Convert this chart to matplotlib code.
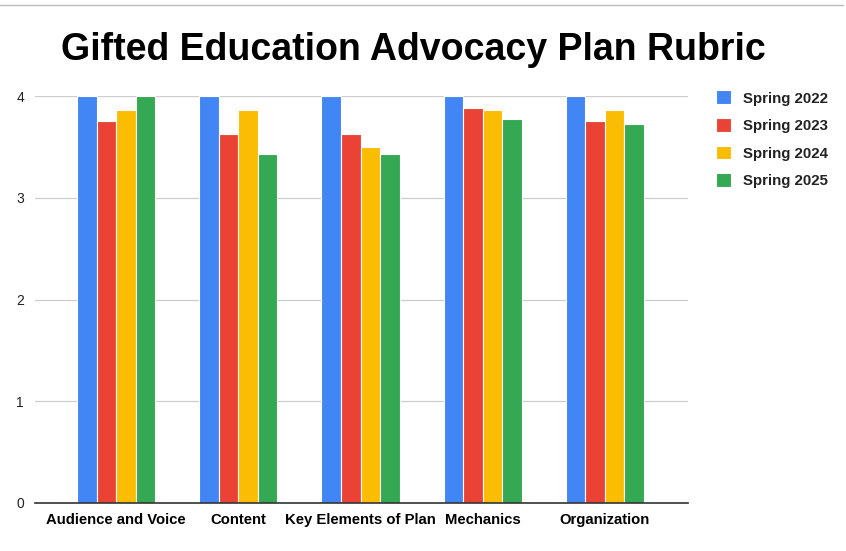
import matplotlib.pyplot as plt
import numpy as np

plt.rcParams['font.family'] = ['Liberation Sans', 'DejaVu Sans']

# Rubric scores per category
categories = ["Audience and Voice", "Content", "Key Elements of Plan", "Mechanics", "Organization"]
spring_2022 = [4.00, 4.00, 4.00, 4.00, 4.00]
spring_2023 = [3.75, 3.63, 3.63, 3.88, 3.75]
spring_2024 = [3.86, 3.86, 3.50, 3.86, 3.86]
spring_2025 = [4.00, 3.43, 3.43, 3.77, 3.72]

series = [("Spring 2022", spring_2022, "#4285f4"),
          ("Spring 2023", spring_2023, "#ea4335"),
          ("Spring 2024", spring_2024, "#fbbc04"),
          ("Spring 2025", spring_2025, "#34a853")]

fig = plt.figure(figsize=(8.46, 5.51), dpi=100)
ax = fig.add_axes([35 / 846, 1 - 503 / 551, (688 - 35) / 846, (503 - 96) / 551])

x = np.arange(len(categories))
w = 0.16
for i, (name, vals, col) in enumerate(series):
    ax.bar(x + (i - 1.5) * w, vals, w, color=col, edgecolor="white",
           linewidth=0.8, label=name, zorder=3)

ax.set_xlim(-0.664, 4.68)
ax.set_ylim(0, 4)
ax.set_yticks([0, 1, 2, 3, 4])
ax.set_xticks(x)
ax.set_xticklabels(categories, fontsize=10.7, fontweight="bold")
ax.tick_params(axis="both", length=0)
ax.tick_params(axis="x", pad=7)
ax.tick_params(axis="y", labelsize=10, pad=8, labelcolor="#222222")
ax.grid(axis="y", color="#cccccc", linewidth=0.9, zorder=0)
for s in ["top", "right", "left"]:
    ax.spines[s].set_visible(False)
ax.spines["bottom"].set_color("#333333")
ax.spines["bottom"].set_linewidth(1.2)
ax.spines["bottom"].set_zorder(4)

fig.text(413 / 846, 1 - 50 / 551, "Gifted Education Advocacy Plan Rubric",
         ha="center", va="center", fontsize=27, fontweight="bold")

leg = ax.legend(loc="upper left", bbox_to_anchor=(702 / 846, 1 - 77 / 551),
                bbox_transform=fig.transFigure, frameon=False,
                prop={"weight": "bold", "size": 10.8}, handlelength=1.05,
                handleheight=1.05, labelspacing=0.83, handletextpad=0.75)
for t in leg.get_texts():
    t.set_color("#222222")

# thin rule along the top edge
fig.add_artist(plt.Line2D([0, 843 / 846], [1 - 5 / 551] * 2, color="#bbbbbb",
                          linewidth=1, transform=fig.transFigure))

fig.savefig("out.png", dpi=100)
